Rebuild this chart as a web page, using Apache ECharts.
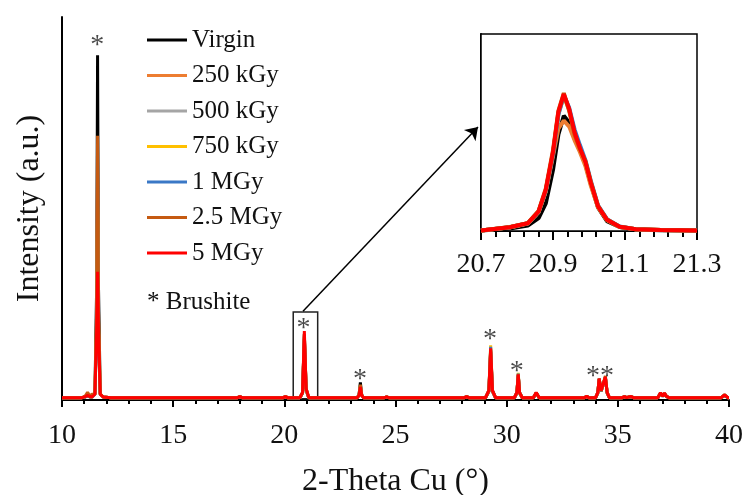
<!DOCTYPE html>
<html>
<head>
<meta charset="UTF-8">
<title>XRD Brushite</title>
<script type="text/javascript" src="https://cdn.jsdelivr.net/npm/echarts@6/dist/echarts.min.js"></script>
<style>html,body{margin:0;padding:0;background:#fff;}</style>
</head>
<body>
<div id="main" style="width:745px;height:495px;"></div>
<script type="text/javascript">
var seriesNames = ['Virgin', '250 kGy', '500 kGy', '750 kGy', '1 MGy', '2.5 MGy', '5 MGy'];
var seriesColors = ['#000000', '#ED7D31', '#A5A5A5', '#FFC000', '#3A78C6', '#C55A11', '#FF0000'];

// 2-theta positions of the main pattern
var mainTheta = [
  10.0, 10.9, 11.05, 11.15, 11.25, 11.35, 11.48, 11.56, 11.6, 11.64, 11.72, 11.85, 12.2,
  17.9, 18.0, 18.1,
  19.95, 20.05, 20.15,
  20.7, 20.82, 20.9, 20.98, 21.1,
  23.28, 23.36, 23.42, 23.48, 23.56,
  24.5, 24.6, 24.7,
  28.1, 28.2, 28.3,
  29.05, 29.2, 29.28, 29.36, 29.5,
  30.35, 30.46, 30.52, 30.58, 30.7,
  31.2, 31.33, 31.46,
  33.5, 33.6, 33.7,
  34.0, 34.1, 34.16, 34.25, 34.32, 34.44, 34.52, 34.62,
  35.2, 35.3, 35.4, 35.5, 35.6, 35.7,
  36.8, 36.92, 37.02, 37.1, 37.18, 37.3,
  39.65, 39.8, 39.95, 40.0
];
var virginMain = [
  0.6,0.6,0.8,1.2,0.8,0.7,1.5,30,90,30,1.5,0.8,0.6,
  0.6,0.8,0.6,
  0.6,0.8,0.6,
  0.6,1.8,16,2.5,0.6,
  0.6,1.4,4.6,1.4,0.6,
  0.6,0.7,0.6,
  0.6,0.8,0.6,
  0.6,2.2,12.5,2.2,0.6,
  0.6,1.8,6.3,1.8,0.6,
  0.6,1.8,0.6,
  0.6,0.9,0.6,
  0.6,1.8,5.3,2.3,2.8,5.7,1.8,0.6,
  0.6,0.8,0.6,0.7,0.8,0.6,
  0.6,1.8,0.9,1.7,0.9,0.6,
  0.6,1.2,0.6,0.6
];
var kGy250Main = [
  0.6,0.6,0.9,1.5,0.9,0.8,1.5,21,60,21,1.5,0.8,0.6,
  0.6,0.9,0.6,
  0.6,0.9,0.6,
  0.6,1.9,16.5,2.8,0.6,
  0.6,1.2,3.6,1.2,0.6,
  0.6,0.8,0.6,
  0.6,0.9,0.6,
  0.6,2.4,12.8,2.4,0.6,
  0.6,1.9,6.5,1.9,0.6,
  0.6,1.9,0.6,
  0.6,1,0.6,
  0.6,1.9,5.4,2.4,2.9,5.8,1.9,0.6,
  0.6,0.9,0.6,0.8,0.9,0.6,
  0.6,1.8,1,1.7,1,0.6,
  0.6,1.3,0.6,0.6
];
var kGy500Main = [
  0.6,0.6,0.9,1.4,0.9,0.8,1.5,19,55,19,1.5,0.8,0.6,
  0.6,0.9,0.6,
  0.6,0.9,0.6,
  0.6,1.9,16.8,2.8,0.6,
  0.6,1.2,3.5,1.2,0.6,
  0.6,0.8,0.6,
  0.6,0.9,0.6,
  0.6,2.4,13.0,2.4,0.6,
  0.6,1.9,6.6,1.9,0.6,
  0.6,1.9,0.6,
  0.6,1,0.6,
  0.6,1.9,5.5,2.4,2.9,5.9,1.9,0.6,
  0.6,0.9,0.6,0.8,0.9,0.6,
  0.6,1.8,1,1.7,1,0.6,
  0.6,1.3,0.6,0.6
];
var kGy750Main = [
  0.6,0.6,0.9,1.4,0.9,0.8,1.5,18,50,18,1.5,0.8,0.6,
  0.6,0.9,0.6,
  0.6,0.9,0.6,
  0.6,1.9,17,2.8,0.6,
  0.6,1.2,3.6,1.2,0.6,
  0.6,0.8,0.6,
  0.6,0.9,0.6,
  0.6,2.5,14.3,2.5,0.6,
  0.6,2,7.1,2,0.6,
  0.6,1.9,0.6,
  0.6,1,0.6,
  0.6,1.9,5.5,2.4,2.9,5.9,1.9,0.6,
  0.6,0.9,0.6,0.8,0.9,0.6,
  0.6,1.8,1,1.7,1,0.6,
  0.6,1.3,0.6,0.6
];
var mGy1Main = [
  0.6,0.6,0.9,1.4,0.9,0.8,1.5,17,45,17,1.5,0.8,0.6,
  0.6,0.9,0.6,
  0.6,0.9,0.6,
  0.6,1.9,17.2,2.9,0.6,
  0.6,1.2,3.5,1.2,0.6,
  0.6,0.8,0.6,
  0.6,0.9,0.6,
  0.6,2.5,13.9,2.5,0.6,
  0.6,2,6.9,2,0.6,
  0.6,1.9,0.6,
  0.6,1,0.6,
  0.6,1.9,5.6,2.4,2.9,6.0,1.9,0.6,
  0.6,0.9,0.6,0.8,0.9,0.6,
  0.6,1.8,1,1.7,1,0.6,
  0.6,1.3,0.6,0.6
];
var mGy25Main = [
  0.6,0.6,1.1,2.0,1.1,1.5,1.6,24,69,24,1.6,0.8,0.6,
  0.6,0.9,0.6,
  0.6,0.9,0.6,
  0.6,1.9,17.3,2.9,0.6,
  0.6,1.3,4.0,1.3,0.6,
  0.6,0.8,0.6,
  0.6,0.9,0.6,
  0.6,2.4,13.2,2.4,0.6,
  0.6,1.9,6.6,1.9,0.6,
  0.6,1.9,0.6,
  0.6,1,0.6,
  0.6,1.9,5.6,2.4,2.9,6.3,1.9,0.6,
  0.6,0.9,0.6,0.8,0.9,0.6,
  0.6,1.8,1,1.7,1,0.6,
  0.6,1.3,0.6,0.6
];
var mGy5Main = [
  0.6,0.6,0.9,1.2,0.9,0.8,1.5,18,33.5,18,1.5,0.8,0.6,
  0.6,0.9,0.6,
  0.6,0.9,0.6,
  0.6,2,18,3,0.6,
  0.6,1.2,3.4,1.2,0.6,
  0.6,0.8,0.6,
  0.6,0.9,0.6,
  0.6,2.5,13.5,2.5,0.6,
  0.6,2,6.7,2,0.6,
  0.6,2,0.6,
  0.6,1,0.6,
  0.6,2,5.6,2.5,3,6,2,0.6,
  0.6,0.9,0.6,0.8,0.9,0.6,
  0.6,1.9,1,1.8,1,0.6,
  0.6,1.3,0.6,0.6
];
var mainIntensity = [virginMain, kGy250Main, kGy500Main, kGy750Main, mGy1Main, mGy25Main, mGy5Main];

// zoomed peak around 20.9 (inset)
var insetStart = 20.7;
var insetTheta = [20.70, 20.78, 20.83, 20.86, 20.88, 20.90, 20.915, 20.93, 20.945, 20.96, 20.975, 20.99, 21.005, 21.025, 21.05, 21.085, 21.13, 21.2, 21.3];
var virginInset = [0.2, 1.3, 2.8, 6.5, 14, 31, 49, 58.5, 55, 47, 41, 34, 24, 12, 5, 2, 0.8, 0.4, 0.2];
var kGy250Inset = [0.3, 1.8, 3.8, 9.5, 20, 38, 52, 56, 53, 46, 40, 33, 23, 12, 5.5, 2.1, 0.9, 0.5, 0.3];
var kGy500Inset = [0.3, 1.9, 3.9, 9.8, 20.5, 39.5, 59.5, 68.5, 61.5, 50, 42, 35, 24.5, 12.5, 5.7, 2.2, 0.9, 0.5, 0.3];
var kGy750Inset = [0.3, 1.9, 3.9, 9.8, 20.5, 39.5, 59.5, 68.8, 61.5, 50, 42, 35, 24.5, 12.5, 5.7, 2.2, 0.9, 0.5, 0.3];
var mGy1Inset = [0.3, 1.9, 3.9, 9.8, 20.5, 39, 59, 69, 62.5, 51.5, 43.5, 36, 25.5, 13, 6, 2.3, 0.9, 0.5, 0.3];
var mGy25Inset = [0.3, 2.0, 4.0, 10.2, 21.5, 41, 61, 70, 61, 49, 41.5, 35.5, 25, 12.8, 5.8, 2.2, 0.9, 0.5, 0.3];
var mGy5Inset = [0.3, 1.9, 3.9, 9.9, 21, 40, 60.5, 69.5, 62, 50, 42, 35, 24.5, 12.5, 5.7, 2.2, 0.9, 0.5, 0.3];
var insetIntensity = [virginInset, kGy250Inset, kGy500Inset, kGy750Inset, mGy1Inset, mGy25Inset, mGy5Inset];

// brushite markers
var asteriskTheta = [11.58, 20.86, 23.4, 29.25, 30.45, 34.2];
var asteriskIntensity = [94.0, 20.1, 6.8, 17.2, 8.9, 7.6];
var asteriskText = ['*', '*', '*', '*', '*', '**'];

// box around the zoomed peak and arrow to the inset
var zoomBoxTheta = [20.4, 21.5];
var zoomBoxIntensity = [0.3, 23];
var arrowTheta = [20.84, 28.71];
var arrowIntensity = [23.2, 71.3];

var font = '"Liberation Serif", "Times New Roman", serif';
var myChart = echarts.init(document.getElementById('main'));

var series = [];
seriesNames.forEach(function (name, i) {
  series.push({
    name: name,
    type: 'line',
    xAxisIndex: 0,
    yAxisIndex: 0,
    symbol: 'none',
    animation: false,
    lineStyle: { width: 3, color: seriesColors[i] },
    itemStyle: { color: seriesColors[i] },
    data: mainTheta.map(function (t, j) { return [t, mainIntensity[i][j]]; })
  });
});
seriesNames.forEach(function (name, i) {
  series.push({
    name: name,
    type: 'line',
    xAxisIndex: 1,
    yAxisIndex: 1,
    symbol: 'none',
    animation: false,
    lineStyle: { width: 4, color: seriesColors[i] },
    itemStyle: { color: seriesColors[i] },
    data: insetTheta.map(function (t, j) { return [t - insetStart, insetIntensity[i][j]]; })
  });
});
series.push({
  name: 'markers',
  type: 'scatter',
  xAxisIndex: 0,
  yAxisIndex: 0,
  symbolSize: 0,
  z: 5,
  silent: true,
  animation: false,
  label: {
    show: true,
    position: 'inside',
    offset: [0, 6],
    fontSize: 28,
    fontFamily: font,
    color: '#1a1a1a',
    formatter: function (p) { return p.data[2]; }
  },
  data: asteriskTheta.map(function (t, j) { return [t, asteriskIntensity[j], asteriskText[j]]; }),
  markArea: {
    silent: true,
    itemStyle: { color: 'rgba(0,0,0,0)', borderColor: '#222', borderWidth: 1.5 },
    data: [[{ coord: [zoomBoxTheta[0], zoomBoxIntensity[0]] }, { coord: [zoomBoxTheta[1], zoomBoxIntensity[1]] }]]
  },
  markLine: {
    silent: true,
    symbol: ['none', 'arrow'],
    symbolSize: 12,
    label: { show: false },
    lineStyle: { color: '#000', width: 1.5, type: 'solid' },
    data: [[{ coord: [arrowTheta[0], arrowIntensity[0]] }, { coord: [arrowTheta[1], arrowIntensity[1]] }]]
  }
});

var option = {
  animation: false,
  backgroundColor: '#fff',
  textStyle: { fontFamily: font },
  grid: [
    { left: 62, right: 16, top: 17, bottom: 95, outerBoundsMode: 'none' },
    { left: 481, top: 34, width: 216, height: 197, outerBoundsMode: 'none', show: true, borderColor: '#000', borderWidth: 1.5, backgroundColor: '#fff', z: 3 }
  ],
  legend: {
    data: seriesNames,
    orient: 'vertical',
    left: 147,
    top: 27.5,
    padding: 0,
    icon: 'rect',
    itemWidth: 40,
    itemHeight: 3,
    itemGap: 10.5,
    selectedMode: false,
    textStyle: { fontSize: 25, fontFamily: font, color: '#111', lineHeight: 25 }
  },
  graphic: [{
    type: 'text',
    left: 147,
    top: 290,
    style: { text: '* Brushite', font: '25px ' + font, fill: '#111' }
  }],
  xAxis: [{
    gridIndex: 0,
    type: 'value',
    min: 10,
    max: 40,
    interval: 5,
    name: '2-Theta Cu (°)',
    nameLocation: 'middle',
    nameGap: 66,
    nameTextStyle: { fontSize: 32, fontFamily: font, color: '#111' },
    axisLine: { onZero: false, lineStyle: { color: '#000', width: 2 } },
    axisTick: { length: 7, lineStyle: { color: '#000', width: 2 } },
    minorTick: { show: true, splitNumber: 5, length: 4, lineStyle: { color: '#000', width: 2 } },
    axisLabel: { fontSize: 28, fontFamily: font, color: '#111', margin: 22 },
    splitLine: { show: false }
  }, {
    gridIndex: 1,
    type: 'value',
    min: 0,
    max: 0.6,
    interval: 0.2,
    axisLine: { onZero: false, lineStyle: { color: '#000', width: 2 } },
    axisTick: { length: 9, lineStyle: { color: '#000', width: 2 } },
    minorTick: { show: true, splitNumber: 5, length: 6, lineStyle: { color: '#000', width: 2 } },
    axisLabel: {
      fontSize: 28, fontFamily: font, color: '#111', margin: 20,
      formatter: function (v) { return (v + insetStart).toFixed(1); }
    },
    splitLine: { show: false }
  }],
  yAxis: [{
    gridIndex: 0,
    type: 'value',
    min: 0,
    max: 100,
    name: 'Intensity (a.u.)',
    nameLocation: 'middle',
    nameGap: 16,
    nameTextStyle: { fontSize: 32, fontFamily: font, color: '#111' },
    axisLine: { show: true, lineStyle: { color: '#000', width: 2 } },
    axisTick: { show: false },
    axisLabel: { show: false },
    splitLine: { show: false }
  }, {
    gridIndex: 1,
    type: 'value',
    min: 0,
    max: 100,
    axisLine: { show: true, lineStyle: { color: '#000', width: 2 } },
    axisTick: { show: false },
    axisLabel: { show: false },
    splitLine: { show: false }
  }],
  series: series
};
myChart.setOption(option);
</script>
</body>
</html>
